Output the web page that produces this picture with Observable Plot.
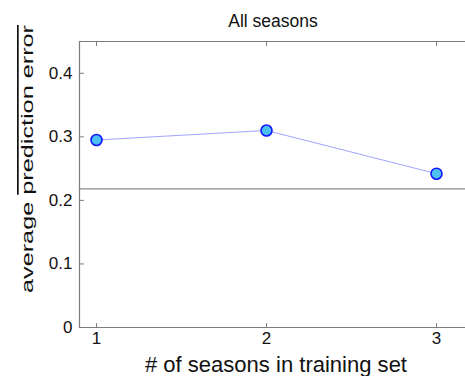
<!DOCTYPE html>
<html>
<head>
<meta charset="utf-8">
<script src="https://cdn.jsdelivr.net/npm/d3@7"></script>
<script src="https://cdn.jsdelivr.net/npm/@observablehq/plot@0.6"></script>
<style>
  html, body { margin: 0; padding: 0; background: #fff; overflow: hidden; width: 465px; height: 376px; }
  #chart { width: 465px; height: 376px; overflow: hidden; }
  #chart svg { display: block; max-width: none !important; font-family: "Liberation Sans", Arial, sans-serif; }
</style>
</head>
<body>
<div id="chart"></div>
<script>
const seasons = [1, 2, 3];
const errors = [0.295, 0.310, 0.242];
const baseline = [0.218];
const yTicks = [0, 0.1, 0.2, 0.3, 0.4];
const yTickLabels = ["0", "0.1", "0.2", "0.3", "0.4"];
const xTickLabels = ["1", "2", "3"];
const xDomain = [0.9, 3.2];
const yDomain = [0, 0.45];
const titleText = "All seasons";
const xLabelText = "# of seasons in training set";
const yLabelPlain = "average ";
const yLabelBar = "prediction error";

const data = seasons.map((s, i) => ({season: s, error: errors[i]}));

const tickShape = {draw(context, l) { context.moveTo(0, 0); context.lineTo(0, -l); }};
const axisGray = "#7c7c7c";

const chart = Plot.plot({
  width: 470,
  height: 376,
  marginLeft: 79,
  marginTop: 41,
  marginBottom: 49,
  marginRight: 0,
  style: {fontFamily: "Liberation Sans, Arial, sans-serif", background: "#fff", color: "#111", maxWidth: "none"},
  x: {domain: xDomain, axis: null},
  y: {domain: yDomain, axis: null},
  marks: [
    Plot.ruleX([xDomain[0]], {stroke: axisGray, strokeWidth: 1.2}),
    Plot.ruleY([yDomain[0], yDomain[1]], {stroke: axisGray, strokeWidth: 1.2}),
    Plot.text(yTicks, {y: d => d, text: (d, i) => yTickLabels[i], frameAnchor: "left", dx: -7, textAnchor: "end", fontSize: 17, fill: "#111"}),
    Plot.text(seasons, {x: d => d, text: (d, i) => xTickLabels[i], frameAnchor: "bottom", dy: 16, fontSize: 17, fill: "#111"}),
    Plot.vector(yTicks, {y: d => d, frameAnchor: "left", length: 4, rotate: 90, anchor: "start", shape: tickShape, stroke: axisGray, strokeWidth: 1}),
    Plot.vector(seasons, {x: d => d, frameAnchor: "bottom", length: 4, rotate: 0, anchor: "start", shape: tickShape, stroke: axisGray, strokeWidth: 1}),
    Plot.vector(seasons, {x: d => d, frameAnchor: "top", length: 4, rotate: 180, anchor: "start", shape: tickShape, stroke: axisGray, strokeWidth: 1}),
    Plot.ruleY(baseline, {stroke: "#8a8a8a", strokeWidth: 1.3}),
    Plot.line(data, {x: "season", y: "error", stroke: "#9a9aff", strokeWidth: 1, strokeDasharray: "2,1"}),
    Plot.dot(data, {x: "season", y: "error", r: 5.5, fill: "#4cc0f0", stroke: "#1414ff", strokeWidth: 1.6})
  ]
});

chart.style.maxWidth = "none";
document.getElementById("chart").appendChild(chart);

const svg = d3.select(chart);
svg.append("text")
  .attr("x", 273).attr("y", 27)
  .attr("text-anchor", "middle")
  .attr("font-size", 17.5)
  .attr("fill", "#111")
  .text(titleText);

svg.append("text")
  .attr("x", 276).attr("y", 372)
  .attr("text-anchor", "middle")
  .attr("font-size", 22)
  .attr("fill", "#111")
  .attr("textLength", 262)
  .attr("lengthAdjust", "spacingAndGlyphs")
  .text(xLabelText);

const yl = svg.append("text")
  .attr("transform", "translate(33,159) rotate(-90)")
  .attr("text-anchor", "middle")
  .attr("font-size", 17)
  .attr("fill", "#111")
  .attr("textLength", 268)
  .attr("lengthAdjust", "spacingAndGlyphs");
yl.append("tspan").text(yLabelPlain);
yl.append("tspan").style("text-decoration", "overline").text(yLabelBar);
</script>
</body>
</html>
